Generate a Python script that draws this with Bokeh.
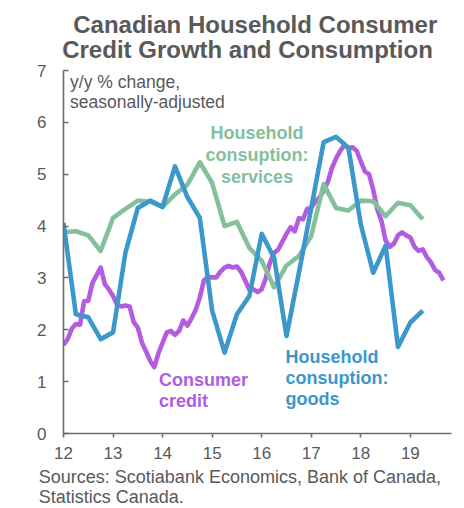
from bokeh.plotting import figure
from bokeh.models import Range1d, FixedTicker, Label, Title
from bokeh.embed import file_html
from bokeh.resources import INLINE

# ---- data ----
x_ticks = [12, 13, 14, 15, 16, 17, 18, 19]
y_ticks = [0, 1, 2, 3, 4, 5, 6, 7]

# quarterly series, 2012Q1 .. 2019Q2 (x = year-2000 + quarter offset)
quarter_start = 12.0
services = [3.88, 3.90, 3.82, 3.52, 4.16, 4.33, 4.49, 4.47, 4.37, 4.61, 4.80, 5.23,
            4.83, 4.00, 4.08, 3.58, 3.33, 2.82, 3.24, 3.42, 3.81, 4.81, 4.35, 4.30,
            4.49, 4.48, 4.19, 4.45, 4.40, 4.13]
goods = [4.06, 2.30, 2.24, 1.82, 1.95, 3.49, 4.35, 4.49, 4.37, 5.15, 4.56, 4.16,
         2.37, 1.56, 2.30, 2.65, 3.85, 3.39, 1.88, 3.10, 4.35, 5.62, 5.72, 5.51,
         4.03, 3.10, 3.62, 1.67, 2.14, 2.37]

# monthly series, Jan 2012 .. Sep 2019
month_start = 12.0
credit = [1.71, 1.82, 2.02, 2.11, 2.10, 2.55, 2.56, 2.90, 3.05, 3.20, 2.88, 2.78,
          2.65, 2.48, 2.45, 2.47, 2.45, 2.15, 2.04, 1.75, 1.58, 1.40, 1.28, 1.55,
          1.75, 1.95, 1.98, 1.90, 1.98, 2.18, 2.08, 2.22, 2.38, 2.62, 2.95, 3.02,
          3.01, 3.01, 3.12, 3.20, 3.23, 3.20, 3.22, 3.12, 2.95, 2.77, 2.78, 2.73,
          2.78, 3.00, 3.30, 3.48, 3.55, 3.70, 3.85, 3.98, 3.90, 4.15, 4.13, 4.33,
          4.35, 4.48, 4.55, 4.68, 4.85, 5.12, 5.30, 5.45, 5.56, 5.50, 5.52, 5.45,
          5.25, 5.05, 5.00, 4.70, 4.32, 4.10, 3.72, 3.60, 3.66, 3.82, 3.88, 3.82,
          3.78, 3.60, 3.52, 3.55, 3.40, 3.30, 3.15, 3.10, 2.95]

title_lines = ["Canadian Household Consumer", "Credit Growth and Consumption"]
unit_lines = ["y/y % change,", "seasonally-adjusted"]
source_lines = ["Sources: Scotiabank Economics, Bank of Canada,", "Statistics Canada."]
services_label = ["Household", "consuption:", "services"]
goods_label = ["Household", "consuption:", "goods"]
credit_label = ["Consumer", "credit"]

# ---- styling ----
FONT = "Liberation Sans"
GRAY = "#595959"
BLUE = "#3c97cb"
GREEN = "#84c09c"
PURPLE = "#b35ce1"

qx = [quarter_start + i * 0.25 for i in range(len(services))]
mx = [month_start + i / 12 for i in range(len(credit))]

p = figure(width=464, height=508, output_backend="svg", toolbar_location=None,
           x_range=Range1d(12, 19.83), y_range=Range1d(0, 7),
           min_border_left=63, min_border_right=13, min_border_top=70,
           min_border_bottom=75)
p.outline_line_color = None
p.grid.visible = False
p.background_fill_color = "white"
p.border_fill_color = "white"

# title: first line is the outer (default) title, second line sits next to the frame
p.title.text = title_lines[0]
p.title.text_font = FONT
p.title.text_font_size = "24px"
p.title.text_font_style = "bold"
p.title.text_color = GRAY
p.title.align = "left"
p.title.vertical_align = "bottom"
p.title.offset = 9.7
p.title.standoff = -25.6

t2 = Title(text=title_lines[1], text_font=FONT, text_font_size="24px",
           text_font_style="bold", text_color=GRAY, align="left",
           vertical_align="bottom", offset=-1.3, standoff=16)
p.add_layout(t2, "above")

# sources (two lines, below the x axis)
src = Title(text="\n".join(source_lines), text_font=FONT, text_font_size="18px",
            text_font_style="normal", text_color=GRAY, text_line_height=1.04,
            align="left", vertical_align="top", offset=-24.7, standoff=-12)
p.add_layout(src, "below")

lw = 4.6
p.line(mx, credit, line_color=PURPLE, line_width=lw, line_join="round")
p.line(qx, services, line_color=GREEN, line_width=lw, line_join="round")
p.line(qx, goods, line_color=BLUE, line_width=lw, line_join="round")

for ax in (p.xaxis[0], p.yaxis[0]):
    ax.axis_line_color = "#6b6b6b"
    ax.axis_line_width = 1.6
    ax.major_tick_line_color = "#6b6b6b"
    ax.major_tick_line_width = 1.6
    ax.minor_tick_line_color = None
    ax.major_label_text_font = FONT
    ax.major_label_text_font_size = "17px"
    ax.major_label_text_color = GRAY

p.xaxis[0].ticker = FixedTicker(ticks=x_ticks)
p.xaxis[0].major_tick_in = 0
p.xaxis[0].major_tick_out = 4
p.xaxis[0].major_label_standoff = 9
# blank spacer label to push the sources a few pixels lower
p.xaxis[0].axis_label = " "
p.xaxis[0].axis_label_text_font_size = "1px"
p.xaxis[0].axis_label_standoff = 7
p.yaxis[0].ticker = FixedTicker(ticks=y_ticks)
p.yaxis[0].major_tick_in = 5
p.yaxis[0].major_tick_out = 0
p.yaxis[0].major_label_standoff = 17


def add_lines(lines, x, y0, dy, size, color, bold=False, align="left"):
    for i, t in enumerate(lines):
        p.add_layout(Label(x=x, y=y0 - i * dy, text=t, text_font=FONT,
                           text_font_size=size, text_color=color,
                           text_font_style="bold" if bold else "normal",
                           text_align=align, text_baseline="alphabetic"))


# in-frame labels (data units: 1 unit = ~51.9 px vertically)
add_lines(unit_lines, 12.133, 6.77, 0.385, "17.5px", GRAY)
add_lines(services_label, 15.907, 5.80, 0.424, "18px", GREEN, bold=True, align="center")
add_lines(goods_label, 16.482, 1.484, 0.414, "18px", BLUE, bold=True)
add_lines(credit_label, 13.926, 1.035, 0.412, "18px", PURPLE, bold=True)

open("out.html", "w").write(file_html(p, INLINE))
